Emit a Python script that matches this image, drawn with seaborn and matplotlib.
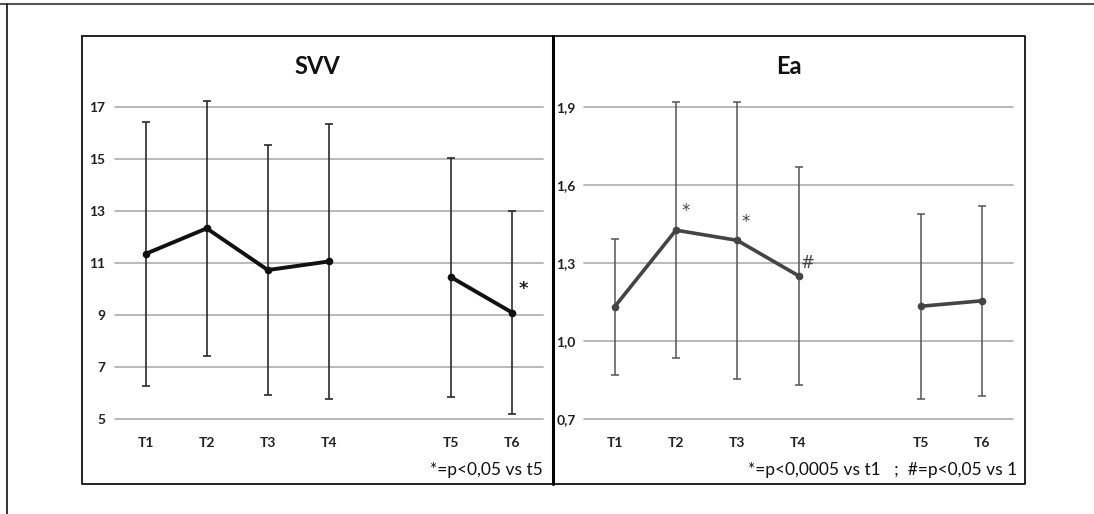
import matplotlib
matplotlib.use("Agg")
import matplotlib.pyplot as plt
import seaborn as sns
import pandas as pd
from matplotlib.lines import Line2D

# ---- data ----
times = ["T1", "T2", "T3", "T4", "T5", "T6"]
positions = [0, 1, 2, 3, 5, 6]
segments = ["a", "a", "a", "a", "b", "b"]

svv_mean = [11.35, 12.33, 10.73, 11.06, 10.45, 9.09]
svv_sd = [5.08, 4.89, 4.80, 5.28, 4.58, 3.90]

ea_mean = [1.132, 1.426, 1.387, 1.251, 1.134, 1.155]
ea_sd = [0.262, 0.492, 0.532, 0.418, 0.356, 0.365]

svv_ticks = [5, 7, 9, 11, 13, 15, 17]
ea_ticks = [0.7, 1.0, 1.3, 1.6, 1.9]
ea_ticklabels = ["0,7", "1,0", "1,3", "1,6", "1,9"]

svv_note = "*=p<0,05 vs t5"
ea_note = "*=p<0,0005 vs t1   ;  #=p<0,05 vs 1"

sns.set_theme(style="white")
FONT = ["Lato", "DejaVu Sans"]
plt.rcParams["font.family"] = FONT

W, H = 1094, 514
fig = plt.figure(figsize=(W / 100, H / 100), dpi=100)

def fx(px):
    return px / W

def fy(py):
    return 1 - py / H

# frames
fig.add_artist(Line2D([0, 1], [fy(4), fy(4)], color="#555555", lw=1.5, transform=fig.transFigure))
fig.add_artist(Line2D([fx(7), fx(7)], [0, fy(4)], color="#222222", lw=1.3, transform=fig.transFigure))
box = [(82, 36), (1025, 36), (1025, 484), (82, 484), (82, 36)]
fig.add_artist(Line2D([fx(p[0]) for p in box], [fy(p[1]) for p in box], color="#222222", lw=1.4,
                      transform=fig.transFigure))
fig.add_artist(Line2D([fx(553), fx(553)], [fy(36), fy(484)], color="#000000", lw=2.2, transform=fig.transFigure))

ax_bottom_px, ax_top_px = 419.3, 80.0

def make_axes(left_px, right_px):
    return fig.add_axes([fx(left_px), fy(ax_bottom_px), (right_px - left_px) / W,
                         (ax_bottom_px - ax_top_px) / H])

MARK_FONT = ["DejaVu Sans"]

# ---------- SVV ----------
ax1 = make_axes(115, 543)
px_per_unit = (419.3 - 106.7) / 12
ax1.set_ylim(5, 17 + (106.7 - ax_top_px) / px_per_unit)
ax1.set_xlim(-0.5, 6.5)
df1 = pd.DataFrame({"x": positions, "y": svv_mean, "seg": segments})
for y in svv_ticks:
    ax1.axhline(y, color="#b4b4b4", lw=1.3, zorder=0, clip_on=False)
ax1.errorbar(positions, svv_mean, yerr=svv_sd, fmt="none", ecolor="#2a2a2a",
             elinewidth=1.2, capsize=3, capthick=1.2, clip_on=False, zorder=2)
sns.lineplot(data=df1, x="x", y="y", units="seg", estimator=None, color="#111111",
             lw=2.8, marker="o", markersize=5.5, markeredgewidth=0, ax=ax1, zorder=3)
ax1.text(6.18, 10.0, "*", fontsize=13, fontweight="bold", color="#222222", ha="center", va="center",
         family=MARK_FONT)

# ---------- Ea ----------
ax2 = make_axes(584, 1013)
px_per_unit2 = (419.3 - 106.7) / 1.2
ax2.set_ylim(0.7, 1.9 + (106.7 - ax_top_px) / px_per_unit2)
ax2.set_xlim(-0.5, 6.5)
df2 = pd.DataFrame({"x": positions, "y": ea_mean, "seg": segments})
for y in ea_ticks:
    ax2.axhline(y, color="#b4b4b4", lw=1.3, zorder=0, clip_on=False)
ax2.errorbar(positions, ea_mean, yerr=ea_sd, fmt="none", ecolor="#555555",
             elinewidth=1.1, capsize=3, capthick=1.1, clip_on=False, zorder=2)
sns.lineplot(data=df2, x="x", y="y", units="seg", estimator=None, color="#444444",
             lw=2.6, marker="o", markersize=5.5, markeredgewidth=0, ax=ax2, zorder=3)
ax2.text(1.16, 1.50, "*", fontsize=12, color="#444444", ha="center", va="center", family=MARK_FONT)
ax2.text(2.14, 1.457, "*", fontsize=12, color="#444444", ha="center", va="center", family=MARK_FONT)
ax2.text(3.15, 1.30, "#", fontsize=12, color="#444444", ha="center", va="center", family=MARK_FONT)

for ax, ticks, labels in [(ax1, svv_ticks, [str(t) for t in svv_ticks]),
                          (ax2, ea_ticks, ea_ticklabels)]:
    for s in ax.spines.values():
        s.set_visible(False)
    ax.set_xticks(positions)
    ax.set_xticklabels(times, fontsize=10, fontweight="bold", color="#222222")
    ax.set_yticks(ticks)
    ax.set_yticklabels(labels, fontsize=10, fontweight="bold", color="#222222")
    ax.tick_params(axis="x", length=0, pad=13)
    ax.set_xlabel("")
    ax.set_ylabel("")
    ax.grid(False)
    ax.set_facecolor("none")

ax1.tick_params(axis="y", length=0, pad=7)
ax2.tick_params(axis="y", length=0, pad=20)
for lab in ax2.get_yticklabels():
    lab.set_horizontalalignment("left")

# titles
fig.text(fx(317.5), fy(66), "SVV", fontsize=17, fontweight="bold", ha="center", va="center", color="#111111")
fig.text(fx(789), fy(66), "Ea", fontsize=17, fontweight="bold", ha="center", va="center", color="#111111")

# footnotes
fig.text(fx(543), fy(470), svv_note, fontsize=12.5, ha="right", va="center", color="#111111")
fig.text(fx(1017), fy(470), ea_note, fontsize=12.5, ha="right", va="center", color="#111111")

fig.savefig("out.png", dpi=100)
